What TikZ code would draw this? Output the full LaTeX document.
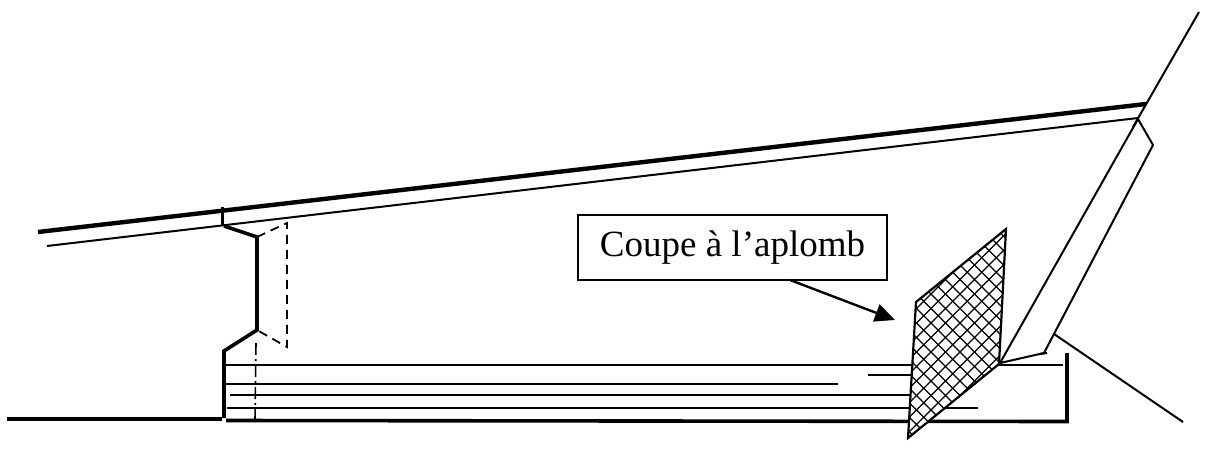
\documentclass[tikz,border=0pt]{standalone}
\usepackage{fontspec}
\setmainfont{Liberation Serif}
\usetikzlibrary{arrows.meta}
\tikzset{
  thinl/.style={line width=2pt},
  thickl/.style={line width=3.6pt},
  heavyl/.style={line width=4.4pt},
  hatchl/.style={line width=1.1pt},
  dashl/.style={line width=1.8pt,dash pattern=on 9pt off 6pt},
  dashdotl/.style={line width=1.6pt,dash pattern=on 12pt off 4pt on 2pt off 4pt},
  labelbox/.style={draw,line width=2.2pt,inner sep=0pt,minimum width=309pt,minimum height=65pt,font=\fontsize{37}{40}\selectfont},
}
\begin{document}
\begin{tikzpicture}[x=1pt,y=-1pt,line join=miter]
\useasboundingbox (0,0) rectangle (1222,455);
% roof
\draw[heavyl] (38,232) -- (1146,104);
\draw[thinl] (47,246) -- (1138,118);
\draw[thinl] (1199,12) -- (1133,127);
% eave detail
\draw[thickl] (222.5,207) -- (222.5,226);
\draw[thickl] (224,226) -- (257,237) -- (257,330) -- (224,351) -- (224,418);
\draw[dashl] (257,237) -- (287,223) -- (287,347) -- (257,330);
\draw[dashdotl] (256,343) -- (255,420);
% ground
\draw[thickl] (7,419) -- (222,419);
% horizontal boards
\draw[thinl] (226,364.5) -- (912,364.5);
\draw[thinl] (226,384) -- (838,384);
\draw[thinl] (230,395) -- (910,395);
\draw[thinl] (227,408) -- (978,408);
\draw[thinl] (868,375) -- (912,375);
\draw[thinl] (998,365) -- (1063,365);
\draw[thickl] (226,420.5) -- (1067,421.5) -- (1067,353);
% hatched section
\coordinate (qa) at (916,302);
\coordinate (qb) at (1006,229);
\coordinate (qc) at (999,364);
\coordinate (qd) at (908,438);
\fill[white] (qa) -- (qb) -- (qc) -- (qd) -- cycle;
\begin{scope}
\clip (qa) -- (qb) -- (qc) -- (qd) -- cycle;
\foreach \k in {0,...,30}{
  \draw[hatchl] (880+\k*14.5,200) -- (880+\k*14.5-300,500);
  \draw[hatchl] (1040-\k*14.5,200) -- (1040-\k*14.5+300,500);
}
\end{scope}
\draw[line width=2.2pt] (qa) -- (qb) -- (qc) -- (qd) -- cycle;
% rafter
\draw[thinl] (1000,363) -- (1138,119) -- (1153,145) -- (1044,353) -- (1000,363);
\draw[thinl] (1040,354) -- (1047,353);
\draw[thinl] (1054,334) -- (1183,422);
% label
\node[labelbox] (lab) at (732.5,247.5) {Coupe à l’aplomb};
\coordinate (tip) at (895,320);
\draw[line width=2.4pt,-{Triangle[length=20pt,width=18pt]}] (790,280) -- (tip);
\end{tikzpicture}
\end{document}
